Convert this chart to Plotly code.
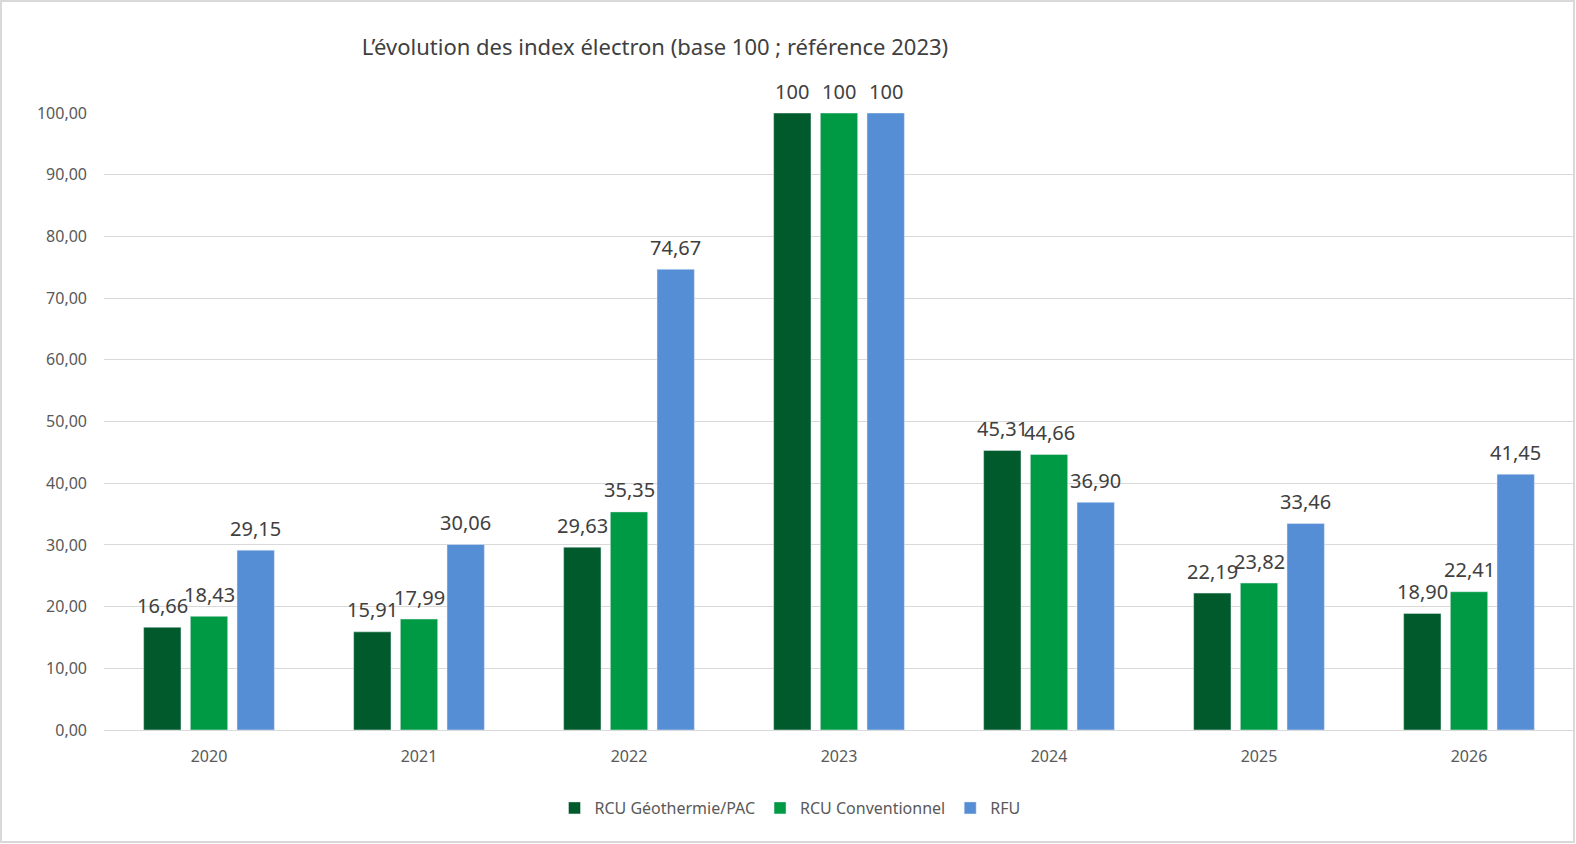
import plotly.graph_objects as go

years = ["2020", "2021", "2022", "2023", "2024", "2025", "2026"]
geo_pac = [16.66, 15.91, 29.63, 100, 45.31, 22.19, 18.90]
conventionnel = [18.43, 17.99, 35.35, 100, 44.66, 23.82, 22.41]
rfu = [29.15, 30.06, 74.67, 100, 36.90, 33.46, 41.45]

series_names = ["RCU Géothermie/PAC", "RCU Conventionnel", "RFU"]
colors = ["#005A2B", "#009A44", "#558ED5"]

def fmt(v):
    return "100" if v == 100 else f"{v:.2f}".replace(".", ",")

FONT = "Noto Sans"
W, H = 1576, 844
L, R, T, B = 104, 2, 113, 114
pw, ph = W - L - R, H - T - B
BARGAP, GROUPGAP = 0.333, 0.2
slot = (pw / len(years)) * (1 - BARGAP) / 3

fig = go.Figure()
annotations = []
all_series = [geo_pac, conventionnel, rfu]
for i, (name, vals, col) in enumerate(zip(series_names, all_series, colors)):
    fig.add_trace(go.Bar(x=years, y=vals, name=name, marker_color=col))
    for j, v in enumerate(vals):
        # x given as category index on the category axis
        annotations.append(dict(
            x=j, y=v, xref="x", yref="y", text=fmt(v), showarrow=False,
            xshift=(i - 1) * slot, yshift=22, yanchor="middle",
            font=dict(family=FONT, size=20, color="#404040")))

fig.update_layout(
    width=W, height=H,
    margin=dict(l=L, r=R, t=T, b=B),
    paper_bgcolor="white", plot_bgcolor="white",
    separators=", ",
    barmode="group", bargap=BARGAP, bargroupgap=GROUPGAP,
    font=dict(family=FONT, color="#595959"),
    title=dict(text="L’évolution des index électron (base 100 ; référence 2023)",
               x=655 / W, xanchor="center", xref="container",
               y=1 - 47 / H, yanchor="middle", yref="container",
               font=dict(family=FONT, size=22, color="#404040")),
    legend=dict(orientation="h", x=(790 - L) / pw, xanchor="center",
                y=(H - B - 808) / ph, yanchor="middle",
                font=dict(family=FONT, size=16, color="#595959"),
                itemwidth=30, tracegroupgap=0),
    xaxis=dict(type="category", categoryorder="array", categoryarray=years,
               range=[-0.5, len(years) - 0.5], autorange=False,
               showgrid=False, showline=True,
               linecolor="#D9D9D9", linewidth=1,
               ticks="", ticklabelstandoff=12,
               tickfont=dict(family=FONT, size=16, color="#595959")),
    yaxis=dict(range=[0, 100], autorange=False, dtick=10, tickformat=".2f",
               showgrid=True,
               gridcolor="#D9D9D9", gridwidth=1, zeroline=False, ticks="",
               ticklabelstandoff=16,
               tickfont=dict(family=FONT, size=16, color="#595959")),
    annotations=annotations,
    shapes=[dict(type="rect", xref="paper", yref="paper",
                 x0=(1 - L) / pw, x1=(W - 2 - L) / pw,
                 y0=(H - B - (H - 2)) / ph, y1=(H - B - 1) / ph,
                 line=dict(color="#D9D9D9", width=2), fillcolor="rgba(0,0,0,0)",
                 layer="below")],
)

fig.write_html("out.html", config={"displayModeBar": False},
               post_script="document.body.style.margin='0';")
